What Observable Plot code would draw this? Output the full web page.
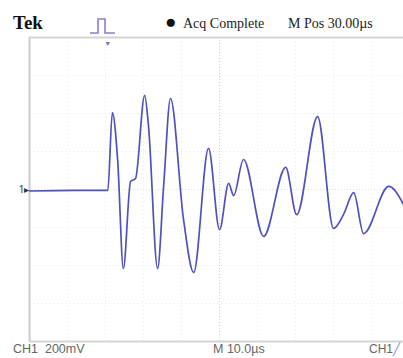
<!DOCTYPE html>
<html>
<head>
<meta charset="utf-8">
<script src="https://cdn.jsdelivr.net/npm/d3@7"></script>
<script src="https://cdn.jsdelivr.net/npm/@observablehq/plot@0.6"></script>
<style>
  html, body { margin: 0; padding: 0; background: #fff; overflow: hidden; }
  #wrap { position: relative; width: 403px; height: 358px; }
  .lbl { position: absolute; white-space: nowrap; font-family: "Liberation Serif", serif; color: #222; }
  .bot { font-family: "Liberation Sans", sans-serif; color: #666; font-size: 12.5px; top: 342px; }
</style>
</head>
<body>
<div id="wrap">
  <div class="lbl" style="left:13px; top:12px; font-size:19px; font-weight:bold; color:#111;">Tek</div>
  <svg style="position:absolute; left:88px; top:14px;" width="30" height="24" viewBox="0 0 30 24">
    <path d="M2 19 H10 V5 H17 V19 H27" fill="none" stroke="#8a7fd0" stroke-width="1.6"/>
  </svg>
  <div class="lbl" style="left:165px; top:11px; font-size:19px; color:#111;">●</div>
  <div class="lbl" style="left:183px; top:16px; font-size:14px;">Acq Complete</div>
  <div class="lbl" style="left:288px; top:16px; font-size:14px;">M Pos 30.00µs</div>
  <div class="lbl bot" style="left:13px;">CH1&nbsp;&nbsp;200mV</div>
  <div class="lbl bot" style="left:213px;">M 10.0µs</div>
  <div class="lbl bot" style="left:369px; font-size:12px;">CH1<span style="color:#8a8ad8">╱</span></div>
  <div id="chart" style="position:absolute; left:0; top:0;"></div>
</div>
<script>
// time in µs (10 µs/div), voltage in mV (200 mV/div)
const timeUs = [0, 12.1, 20.6, 21.8, 23.2, 24.7, 26.6, 27.9, 30.3, 31.3, 33.7, 35.3, 37.1, 40.5, 43.2, 47.1, 50.0, 52.4, 53.7, 56.3, 61.6, 67.4, 70.3, 75.8, 80.0, 82.6, 85.3, 87.9, 94.5, 98.4];
const voltsMv = [-8, -5, -5, 405, 153, -416, 42, 58, 495, 337, -416, 21, 479, -153, -437, 216, -211, 32, -32, 158, -247, 116, -132, 384, -205, -132, -16, -232, 16, -79];
const gridTimes = [10, 20, 30, 40, 60, 70, 80, 90];
const gridVolts = [-600, -400, -200, 200, 400, 600];
const centerTime = [50];
const centerVolt = [0];
const triggerTime = [20.6];

const trace = timeUs.map((t, i) => ({t, v: voltsMv[i]}));

const chart = Plot.plot({
  width: 403,
  height: 358,
  marginTop: 37,
  marginBottom: 17,
  marginLeft: 29,
  marginRight: 0,
  x: {domain: [0, 98.4], axis: null},
  y: {domain: [-800, 800], axis: null},
  style: {background: "transparent", overflow: "visible"},
  marks: [
    Plot.ruleX(gridTimes, {stroke: "#e8e8e8", strokeDasharray: "1,3"}),
    Plot.ruleY(gridVolts, {stroke: "#e8e8e8", strokeDasharray: "1,3"}),
    Plot.ruleX(centerTime, {stroke: "#cfcfcf", strokeDasharray: "1,2"}),
    Plot.ruleY(centerVolt, {stroke: "#e0e0e0", strokeDasharray: "1,2"}),
    Plot.ruleX([0], {stroke: "#cccccc", strokeWidth: 2}),
    Plot.ruleY([800, -800], {stroke: "#d4d4d4", strokeWidth: 2}),
    Plot.line(trace, {x: "t", y: "v", stroke: "#5050c0", strokeWidth: 1.7, strokeLinejoin: "round", curve: "monotone-x"}),
    Plot.text(triggerTime, {x: d => d, frameAnchor: "top", text: () => "▼", fill: "#8070c0", fontSize: 7, dy: 4}),
    Plot.text([0], {x: 0, y: d => d, text: () => "1▸", textAnchor: "end", fontSize: 10, fill: "#333"})
  ]
});
document.getElementById("chart").appendChild(chart);
</script>
</body>
</html>
